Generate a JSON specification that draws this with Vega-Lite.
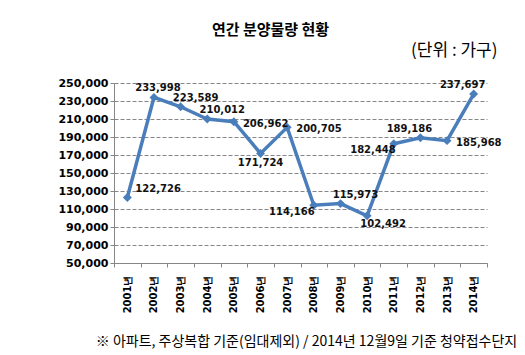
{
 "$schema": "https://vega.github.io/schema/vega-lite/v6.json",
 "width": 373, "height": 180,
 "autosize": {"type": "none"},
 "padding": {"left": 114, "top": 83, "right": 38, "bottom": 92},
 "background": "white",
 "config": {"view": {"stroke": null}},
 "title": {"text": "연간 분양물량 현황", "anchor": "middle", "frame": "group", "dx": -30, "offset": -9, "baseline": "alphabetic", "font": "Noto Sans CJK KR", "fontSize": 15, "fontWeight": "bold", "color": "#000"},
 "data": {"values": [
  {"year": "2001", "value": 122726},
  {"year": "2002", "value": 233998},
  {"year": "2003", "value": 223589},
  {"year": "2004", "value": 210012},
  {"year": "2005", "value": 206962},
  {"year": "2006", "value": 171724},
  {"year": "2007", "value": 200705},
  {"year": "2008", "value": 114166},
  {"year": "2009", "value": 115973},
  {"year": "2010", "value": 102492},
  {"year": "2011", "value": 182448},
  {"year": "2012", "value": 189186},
  {"year": "2013", "value": 185968},
  {"year": "2014", "value": 237697}
 ]},
 "encoding": {
  "x": {"field": "year", "type": "ordinal", "bandPosition": 0.5,
   "scale": {"type": "band", "paddingInner": 0, "paddingOuter": 0},
   "axis": {"labelAngle": -90, "labelExpr": "datum.label ? datum.label + '년' : ''", "labelFont": "DejaVu Sans", "labelFontWeight": "bold", "labelFontSize": 10, "labelColor": "#000", "labelPadding": 8,
    "tickBand": "extent", "ticks": true, "tickSize": 4, "tickColor": "#868686", "domainColor": "#868686", "grid": false,
    "title": "※ 아파트, 주상복합 기준(임대제외) / 2014년 12월9일 기준 청약접수단지", "titleFont": "Noto Sans CJK KR", "titleFontSize": 14, "titleFontWeight": "normal", "titleColor": "#000", "titleX": 192, "titleY": 82, "titleBaseline": "alphabetic", "titleAlign": "center"}},
  "y": {"field": "value", "type": "quantitative",
   "scale": {"domain": [50000, 250000], "nice": false, "zero": false},
   "axis": {"values": [50000, 70000, 90000, 110000, 130000, 150000, 170000, 190000, 210000, 230000, 250000], "format": ",d",
    "labelFont": "DejaVu Sans", "labelFontWeight": "bold", "labelFontSize": 11, "labelColor": "#000", "labelPadding": 2,
    "grid": true, "gridDash": [4, 2], "gridColor": "#868686", "domainColor": "#868686", "tickColor": "#868686", "tickSize": 4,
    "title": "(단위 : 가구)", "titleAngle": 0, "titleAlign": "right", "titleBaseline": "alphabetic", "titleX": 383, "titleY": -28, "titleFont": "Noto Sans CJK KR", "titleFontSize": 17, "titleFontWeight": "normal", "titleColor": "#000"}}
 },
 "layer": [
  {"mark": {"type": "line", "color": "#4A7EBB", "strokeWidth": 3.5}},
  {"mark": {"type": "point", "shape": "diamond", "filled": true, "color": "#4A7EBB", "size": 80, "opacity": 1}},
  {"transform": [{"filter": "datum.year == '2002'"}], "mark": {"type": "text", "font": "DejaVu Sans", "fontWeight": "bold", "fontSize": 10, "color": "#111", "align": "center", "baseline": "middle", "dx": 4, "dy": -9}, "encoding": {"text": {"field": "value", "format": ",d"}}},
  {"transform": [{"filter": "indexof(['2003','2004','2009'], datum.year) >= 0"}], "mark": {"type": "text", "font": "DejaVu Sans", "fontWeight": "bold", "fontSize": 10, "color": "#111", "align": "center", "baseline": "middle", "dx": 15, "dy": -9}, "encoding": {"text": {"field": "value", "format": ",d"}}},
  {"transform": [{"filter": "indexof(['2012','2014'], datum.year) >= 0"}], "mark": {"type": "text", "font": "DejaVu Sans", "fontWeight": "bold", "fontSize": 10, "color": "#111", "align": "center", "baseline": "middle", "dx": -11, "dy": -9}, "encoding": {"text": {"field": "value", "format": ",d"}}},
  {"transform": [{"filter": "datum.year == '2001'"}], "mark": {"type": "text", "font": "DejaVu Sans", "fontWeight": "bold", "fontSize": 10, "color": "#111", "align": "left", "baseline": "middle", "dx": 8, "dy": -9}, "encoding": {"text": {"field": "value", "format": ",d"}}},
  {"transform": [{"filter": "indexof(['2005','2007','2013'], datum.year) >= 0"}], "mark": {"type": "text", "font": "DejaVu Sans", "fontWeight": "bold", "fontSize": 10, "color": "#111", "align": "left", "baseline": "middle", "dx": 9, "dy": 2}, "encoding": {"text": {"field": "value", "format": ",d"}}},
  {"transform": [{"filter": "datum.year == '2006'"}], "mark": {"type": "text", "font": "DejaVu Sans", "fontWeight": "bold", "fontSize": 10, "color": "#111", "align": "center", "baseline": "middle", "dx": 0, "dy": 10}, "encoding": {"text": {"field": "value", "format": ",d"}}},
  {"transform": [{"filter": "datum.year == '2010'"}], "mark": {"type": "text", "font": "DejaVu Sans", "fontWeight": "bold", "fontSize": 10, "color": "#111", "align": "center", "baseline": "middle", "dx": 16, "dy": 8}, "encoding": {"text": {"field": "value", "format": ",d"}}},
  {"transform": [{"filter": "datum.year == '2008'"}], "mark": {"type": "text", "font": "DejaVu Sans", "fontWeight": "bold", "fontSize": 10, "color": "#111", "align": "center", "baseline": "middle", "dx": -22, "dy": 7}, "encoding": {"text": {"field": "value", "format": ",d"}}},
  {"transform": [{"filter": "datum.year == '2011'"}], "mark": {"type": "text", "font": "DejaVu Sans", "fontWeight": "bold", "fontSize": 10, "color": "#111", "align": "right", "baseline": "middle", "dx": 2, "dy": 6}, "encoding": {"text": {"field": "value", "format": ",d"}}}
 ]
}
